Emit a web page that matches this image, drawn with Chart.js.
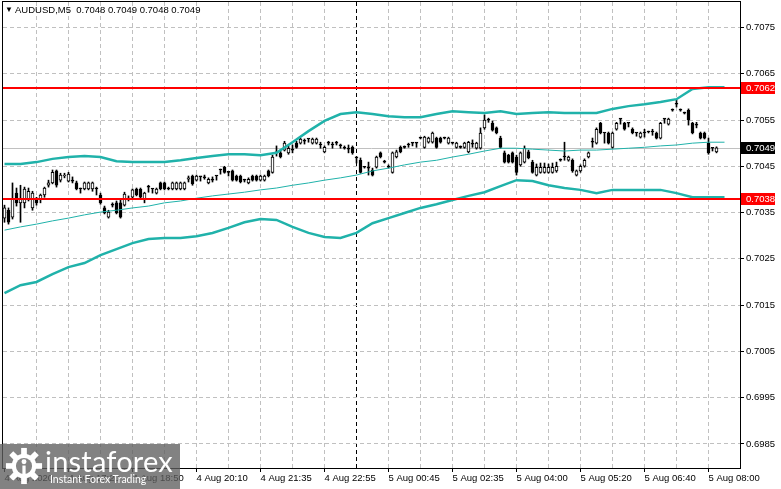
<!DOCTYPE html>
<html>
<head>
<meta charset="utf-8">
<script src="https://cdn.jsdelivr.net/npm/chart.js@4.4.1/dist/chart.umd.min.js"></script>
<style>
  html, body { margin: 0; padding: 0; background: #fff; }
  #wrap { position: relative; width: 781px; height: 489px; overflow: hidden; }
  canvas { display: block; }
  #title { position: absolute; left: 5px; top: 4px; font: 9.5px "Liberation Sans", Arial, sans-serif; color: #000; white-space: pre; }
  #title .tri { font-size: 8px; position: relative; top: -1px; }
  #logo { position: absolute; left: 0; top: 444px; width: 180px; height: 45px; background: rgba(95, 95, 95, 0.78); color: #fff; }
  #logo svg { position: absolute; left: 5px; top: 3px; }
  #logo .brand { position: absolute; left: 45px; top: -1px; font: 29px Lato, "Open Sans", sans-serif; letter-spacing: 0.2px; }
  #logo .tag { position: absolute; left: 50px; top: 29px; font: 10.5px Lato, "Open Sans", sans-serif; }
</style>
</head>
<body>
<div id="wrap">
  <canvas id="chart" width="781" height="489"></canvas>
  <div id="title"><span class="tri">▼</span> AUDUSD,M5&nbsp; 0.7048 0.7049 0.7048 0.7049</div>
  <div id="logo">
    <svg width="38" height="38" viewBox="0 0 40 40">
      <g fill="#fff">
        <rect x="17" y="1" width="6" height="8"/>
        <rect x="17" y="1" width="6" height="8" transform="rotate(45 20 20)"/>
        <rect x="17" y="1" width="6" height="8" transform="rotate(90 20 20)"/>
        <rect x="17" y="1" width="6" height="8" transform="rotate(135 20 20)"/>
        <rect x="17" y="1" width="6" height="8" transform="rotate(180 20 20)"/>
        <rect x="17" y="1" width="6" height="8" transform="rotate(225 20 20)"/>
        <rect x="17" y="1" width="6" height="8" transform="rotate(270 20 20)"/>
        <rect x="17" y="1" width="6" height="8" transform="rotate(315 20 20)"/>
        <circle cx="20" cy="20" r="13"/>
      </g>
      <circle cx="20" cy="20" r="8.5" fill="#858585"/>
      <circle cx="20" cy="15.5" r="2.6" fill="#fff"/>
      <rect x="18.3" y="19.5" width="3.4" height="14" fill="#fff"/>
    </svg>
    <div class="brand">instaforex</div>
    <div class="tag">Instant Forex Trading</div>
  </div>
</div>
<script>
// AUDUSD M5 candles, one entry per bar (bar 0 = left edge)
const opens = [
  0.70338, 0.70355, 0.70340, 0.70392, 0.70371, 0.70371, 0.70379, 0.70360, 0.70379, 0.70379,
  0.70388, 0.70409, 0.70414, 0.70440, 0.70420, 0.70429, 0.70418, 0.70420, 0.70414, 0.70401,
  0.70401, 0.70401, 0.70401, 0.70401, 0.70388, 0.70360, 0.70340, 0.70366, 0.70371, 0.70371,
  0.70366, 0.70379, 0.70383, 0.70401, 0.70401, 0.70379, 0.70405, 0.70401, 0.70392, 0.70414,
  0.70414, 0.70401, 0.70401, 0.70401, 0.70401, 0.70401, 0.70422, 0.70429, 0.70420, 0.70427,
  0.70425, 0.70414, 0.70420, 0.70429, 0.70442, 0.70448, 0.70437, 0.70440, 0.70429, 0.70429,
  0.70420, 0.70414, 0.70429, 0.70429, 0.70420, 0.70420, 0.70440, 0.70437, 0.70479, 0.70479,
  0.70485, 0.70479, 0.70485, 0.70500, 0.70500, 0.70504, 0.70509, 0.70500, 0.70500, 0.70496,
  0.70481, 0.70500, 0.70496, 0.70500, 0.70494, 0.70489, 0.70487, 0.70491, 0.70468, 0.70463,
  0.70448, 0.70446, 0.70442, 0.70448, 0.70479, 0.70459, 0.70448, 0.70437, 0.70470, 0.70491,
  0.70491, 0.70496, 0.70500, 0.70500, 0.70511, 0.70491, 0.70502, 0.70502, 0.70511, 0.70511,
  0.70511, 0.70500, 0.70500, 0.70491, 0.70491, 0.70491, 0.70481, 0.70498, 0.70489, 0.70489,
  0.70533, 0.70550, 0.70543, 0.70533, 0.70511, 0.70479, 0.70474, 0.70479, 0.70470, 0.70453,
  0.70459, 0.70481, 0.70459, 0.70431, 0.70437, 0.70437, 0.70437, 0.70437, 0.70440, 0.70463,
  0.70470, 0.70463, 0.70463, 0.70431, 0.70440, 0.70450, 0.70470, 0.70502, 0.70500, 0.70543,
  0.70522, 0.70522, 0.70491, 0.70530, 0.70552, 0.70543, 0.70543, 0.70530, 0.70522, 0.70513,
  0.70522, 0.70524, 0.70524, 0.70522, 0.70511, 0.70552, 0.70541, 0.70571, 0.70584, 0.70571,
  0.70565, 0.70571, 0.70543, 0.70539, 0.70522, 0.70522, 0.70500, 0.70489, 0.70481
];
const highs = [
  0.70366, 0.70360, 0.70414, 0.70403, 0.70409, 0.70405, 0.70403, 0.70396, 0.70383, 0.70390,
  0.70405, 0.70420, 0.70442, 0.70442, 0.70435, 0.70435, 0.70437, 0.70427, 0.70418, 0.70403,
  0.70416, 0.70416, 0.70416, 0.70405, 0.70392, 0.70364, 0.70355, 0.70371, 0.70375, 0.70377,
  0.70394, 0.70386, 0.70401, 0.70403, 0.70403, 0.70394, 0.70409, 0.70401, 0.70403, 0.70416,
  0.70416, 0.70405, 0.70416, 0.70416, 0.70416, 0.70416, 0.70429, 0.70431, 0.70431, 0.70427,
  0.70431, 0.70425, 0.70427, 0.70429, 0.70444, 0.70450, 0.70437, 0.70442, 0.70431, 0.70431,
  0.70422, 0.70425, 0.70431, 0.70431, 0.70431, 0.70431, 0.70442, 0.70474, 0.70494, 0.70485,
  0.70504, 0.70494, 0.70496, 0.70504, 0.70511, 0.70509, 0.70509, 0.70511, 0.70511, 0.70502,
  0.70494, 0.70504, 0.70502, 0.70504, 0.70498, 0.70494, 0.70496, 0.70494, 0.70470, 0.70468,
  0.70450, 0.70459, 0.70446, 0.70472, 0.70481, 0.70463, 0.70453, 0.70481, 0.70485, 0.70494,
  0.70494, 0.70500, 0.70500, 0.70500, 0.70513, 0.70515, 0.70513, 0.70524, 0.70513, 0.70513,
  0.70513, 0.70513, 0.70502, 0.70502, 0.70494, 0.70502, 0.70504, 0.70507, 0.70502, 0.70533,
  0.70561, 0.70554, 0.70548, 0.70535, 0.70515, 0.70483, 0.70476, 0.70481, 0.70474, 0.70481,
  0.70494, 0.70485, 0.70463, 0.70455, 0.70457, 0.70457, 0.70455, 0.70457, 0.70459, 0.70466,
  0.70502, 0.70472, 0.70466, 0.70442, 0.70453, 0.70466, 0.70481, 0.70511, 0.70533, 0.70545,
  0.70522, 0.70524, 0.70524, 0.70545, 0.70552, 0.70545, 0.70543, 0.70533, 0.70522, 0.70524,
  0.70530, 0.70526, 0.70530, 0.70524, 0.70545, 0.70552, 0.70554, 0.70574, 0.70593, 0.70574,
  0.70567, 0.70574, 0.70545, 0.70545, 0.70524, 0.70524, 0.70511, 0.70489, 0.70492
];
const lows = [
  0.70329, 0.70325, 0.70336, 0.70364, 0.70329, 0.70360, 0.70375, 0.70355, 0.70366, 0.70371,
  0.70383, 0.70405, 0.70412, 0.70405, 0.70416, 0.70425, 0.70416, 0.70414, 0.70399, 0.70392,
  0.70399, 0.70399, 0.70396, 0.70388, 0.70368, 0.70347, 0.70338, 0.70362, 0.70347, 0.70338,
  0.70364, 0.70375, 0.70381, 0.70386, 0.70381, 0.70371, 0.70394, 0.70392, 0.70390, 0.70399,
  0.70399, 0.70399, 0.70399, 0.70399, 0.70399, 0.70399, 0.70416, 0.70409, 0.70418, 0.70418,
  0.70422, 0.70412, 0.70416, 0.70420, 0.70433, 0.70435, 0.70429, 0.70418, 0.70418, 0.70414,
  0.70416, 0.70412, 0.70418, 0.70418, 0.70418, 0.70418, 0.70427, 0.70435, 0.70472, 0.70468,
  0.70483, 0.70476, 0.70479, 0.70489, 0.70498, 0.70498, 0.70502, 0.70498, 0.70498, 0.70489,
  0.70479, 0.70496, 0.70489, 0.70496, 0.70489, 0.70487, 0.70479, 0.70476, 0.70457, 0.70435,
  0.70446, 0.70431, 0.70429, 0.70446, 0.70468, 0.70457, 0.70446, 0.70435, 0.70468, 0.70479,
  0.70489, 0.70491, 0.70494, 0.70491, 0.70509, 0.70489, 0.70500, 0.70500, 0.70489, 0.70500,
  0.70509, 0.70498, 0.70498, 0.70489, 0.70489, 0.70489, 0.70479, 0.70491, 0.70487, 0.70487,
  0.70530, 0.70545, 0.70526, 0.70520, 0.70489, 0.70457, 0.70457, 0.70457, 0.70431, 0.70450,
  0.70457, 0.70466, 0.70435, 0.70429, 0.70435, 0.70435, 0.70435, 0.70435, 0.70437, 0.70461,
  0.70463, 0.70461, 0.70437, 0.70429, 0.70437, 0.70448, 0.70468, 0.70491, 0.70498, 0.70520,
  0.70500, 0.70498, 0.70489, 0.70528, 0.70541, 0.70528, 0.70535, 0.70520, 0.70515, 0.70511,
  0.70513, 0.70522, 0.70517, 0.70509, 0.70509, 0.70543, 0.70539, 0.70569, 0.70578, 0.70569,
  0.70563, 0.70539, 0.70520, 0.70533, 0.70509, 0.70509, 0.70476, 0.70483, 0.70479
];
const closes = [
  0.70360, 0.70329, 0.70381, 0.70371, 0.70379, 0.70401, 0.70396, 0.70392, 0.70371, 0.70388,
  0.70403, 0.70414, 0.70437, 0.70409, 0.70431, 0.70431, 0.70433, 0.70418, 0.70401, 0.70401,
  0.70414, 0.70414, 0.70414, 0.70401, 0.70371, 0.70349, 0.70351, 0.70366, 0.70349, 0.70340,
  0.70390, 0.70379, 0.70399, 0.70388, 0.70383, 0.70392, 0.70405, 0.70401, 0.70401, 0.70401,
  0.70401, 0.70401, 0.70414, 0.70414, 0.70414, 0.70414, 0.70425, 0.70412, 0.70429, 0.70427,
  0.70425, 0.70422, 0.70420, 0.70429, 0.70442, 0.70437, 0.70437, 0.70420, 0.70420, 0.70416,
  0.70420, 0.70422, 0.70420, 0.70420, 0.70429, 0.70429, 0.70429, 0.70470, 0.70481, 0.70470,
  0.70500, 0.70489, 0.70485, 0.70491, 0.70509, 0.70504, 0.70509, 0.70509, 0.70509, 0.70496,
  0.70491, 0.70500, 0.70496, 0.70500, 0.70494, 0.70489, 0.70487, 0.70479, 0.70468, 0.70437,
  0.70448, 0.70446, 0.70431, 0.70470, 0.70470, 0.70459, 0.70448, 0.70479, 0.70481, 0.70481,
  0.70491, 0.70496, 0.70500, 0.70500, 0.70511, 0.70513, 0.70511, 0.70522, 0.70491, 0.70502,
  0.70511, 0.70511, 0.70500, 0.70500, 0.70491, 0.70500, 0.70502, 0.70498, 0.70500, 0.70522,
  0.70550, 0.70550, 0.70528, 0.70522, 0.70491, 0.70459, 0.70459, 0.70459, 0.70437, 0.70479,
  0.70489, 0.70468, 0.70437, 0.70448, 0.70448, 0.70448, 0.70448, 0.70448, 0.70450, 0.70463,
  0.70470, 0.70470, 0.70440, 0.70440, 0.70450, 0.70463, 0.70479, 0.70502, 0.70530, 0.70522,
  0.70522, 0.70500, 0.70522, 0.70543, 0.70552, 0.70530, 0.70543, 0.70522, 0.70522, 0.70522,
  0.70522, 0.70524, 0.70524, 0.70511, 0.70543, 0.70552, 0.70552, 0.70571, 0.70584, 0.70571,
  0.70565, 0.70550, 0.70522, 0.70539, 0.70511, 0.70511, 0.70479, 0.70489, 0.70490
];

// Bollinger bands, read every 4th bar
const bandBars = [
  0, 4, 8, 12, 16, 20, 24, 28, 32, 36, 40, 44, 48, 52, 56, 60, 64, 68, 72, 76, 80, 84, 88,
  92, 96, 100, 104, 108, 112, 116, 120, 124, 128, 132, 136, 140, 144, 148, 152, 156, 160,
  164, 168, 172, 176, 180
];
const bandUpper = [
  0.70455, 0.70455, 0.70459, 0.70466, 0.70470, 0.70472, 0.70470, 0.70461, 0.70459, 0.70459,
  0.70459, 0.70463, 0.70468, 0.70472, 0.70476, 0.70476, 0.70474, 0.70479, 0.70502, 0.70526,
  0.70548, 0.70563, 0.70567, 0.70563, 0.70558, 0.70556, 0.70556, 0.70563, 0.70569, 0.70567,
  0.70565, 0.70569, 0.70563, 0.70565, 0.70567, 0.70565, 0.70565, 0.70565, 0.70574, 0.70580,
  0.70584, 0.70589, 0.70595, 0.70617, 0.70621, 0.70621
];
const bandMiddle = [
  0.70312, 0.70319, 0.70325, 0.70332, 0.70338, 0.70345, 0.70351, 0.70355, 0.70360, 0.70364,
  0.70371, 0.70375, 0.70381, 0.70386, 0.70390, 0.70394, 0.70399, 0.70403, 0.70409, 0.70414,
  0.70420, 0.70425, 0.70431, 0.70440, 0.70446, 0.70453, 0.70459, 0.70463, 0.70470, 0.70476,
  0.70483, 0.70489, 0.70489, 0.70487, 0.70485, 0.70483, 0.70485, 0.70485, 0.70487, 0.70489,
  0.70491, 0.70494, 0.70496, 0.70500, 0.70502, 0.70502
];
const bandLower = [
  0.70176, 0.70193, 0.70200, 0.70217, 0.70232, 0.70241, 0.70258, 0.70271, 0.70284, 0.70293,
  0.70295, 0.70295, 0.70299, 0.70306, 0.70317, 0.70329, 0.70336, 0.70334, 0.70319, 0.70306,
  0.70297, 0.70295, 0.70306, 0.70327, 0.70338, 0.70349, 0.70360, 0.70368, 0.70377, 0.70386,
  0.70394, 0.70407, 0.70420, 0.70418, 0.70409, 0.70403, 0.70399, 0.70392, 0.70399, 0.70399,
  0.70399, 0.70399, 0.70392, 0.70383, 0.70383, 0.70383
];

// time axis labels (bar index -> text)
const labelBars = [0, 16, 32, 48, 64, 80, 96, 112, 128, 144, 160, 176];
const labelTexts = [
  '4 Aug 2020', '4 Aug 17:20', '4 Aug 18:50', '4 Aug 20:10', '4 Aug 21:35', '4 Aug 22:55',
  '5 Aug 00:45', '5 Aug 02:35', '5 Aug 04:00', '5 Aug 05:20', '5 Aug 06:40', '5 Aug 08:00'
];
const separatorBar = 88;

// price axis
const yTicks = [0.6985, 0.6995, 0.7005, 0.7015, 0.7025, 0.7035, 0.7045, 0.7055, 0.7065, 0.7075];
const levels = [0.7062, 0.7038];
const lastPrice = 0.7049;

const TEAL = 'rgb(32,178,170)';
const GRID = '#c0c0c0';

Chart.defaults.font.family = '"Liberation Sans", Arial, sans-serif';
Chart.defaults.font.size = 9.5;
Chart.defaults.color = '#000';

const gridBars = [];
for (let b = 0; b <= 176; b += 8) gridBars.push(b);

// horizontal levels, price line, frame and axis price tags
const overlay = {
    id: 'overlay',
    beforeDatasetsDraw(chart) {
        const { ctx, chartArea: a, scales: { y } } = chart;
        const py = Math.round(y.getPixelForValue(lastPrice)) + 0.5;
        ctx.save();
        ctx.strokeStyle = GRID;
        ctx.lineWidth = 1;
        ctx.beginPath();
        ctx.moveTo(a.left, py);
        ctx.lineTo(a.right, py);
        ctx.stroke();
        ctx.restore();
    },
    afterDatasetsDraw(chart) {
        const { ctx, chartArea: a, scales: { y } } = chart;
        ctx.save();
        ctx.fillStyle = '#ff0000';
        levels.forEach((v) => {
            const py = Math.round(y.getPixelForValue(v));
            ctx.fillRect(a.left, py - 1, a.right - a.left, 2);
        });
        ctx.strokeStyle = '#000';
        ctx.lineWidth = 1;
        ctx.strokeRect(a.left - 0.5, a.top - 0.5, a.right - a.left + 1, a.bottom - a.top + 1);
        ctx.restore();
    },
    afterDraw(chart) {
        const { ctx, chartArea: a, scales: { y } } = chart;
        const tag = (v, bg) => {
            const py = Math.round(y.getPixelForValue(v));
            ctx.fillStyle = bg;
            ctx.fillRect(a.right + 1, py - 6, 34, 12);
            ctx.fillStyle = '#fff';
            ctx.font = '9.5px "Liberation Sans", Arial, sans-serif';
            ctx.textBaseline = 'middle';
            ctx.textAlign = 'left';
            ctx.fillText(v.toFixed(4), a.right + 6, py + 0.5);
        };
        ctx.save();
        levels.forEach((v) => tag(v, '#ff0000'));
        tag(lastPrice, '#000');
        ctx.restore();
    }
};

const bull = (i) => closes[i] > opens[i];

new Chart(document.getElementById('chart'), {
    type: 'bar',
    data: {
        datasets: [
            {
                type: 'line',
                data: bandBars.map((b, k) => ({ x: b, y: bandUpper[k] })),
                borderColor: TEAL,
                borderWidth: 2.5,
                pointRadius: 0,
                tension: 0,
                order: 0
            },
            {
                type: 'line',
                data: bandBars.map((b, k) => ({ x: b, y: bandLower[k] })),
                borderColor: TEAL,
                borderWidth: 2.5,
                pointRadius: 0,
                tension: 0,
                order: 0
            },
            {
                type: 'line',
                data: bandBars.map((b, k) => ({ x: b, y: bandMiddle[k] })),
                borderColor: TEAL,
                borderWidth: 1,
                pointRadius: 0,
                tension: 0,
                order: 0
            },
            {
                // candle bodies
                data: opens.map((o, i) => ({ x: i, y: [o, closes[i]] })),
                backgroundColor: (c) => (bull(c.dataIndex) ? '#fff' : '#000'),
                borderColor: '#000',
                borderWidth: 1,
                borderSkipped: false,
                barThickness: 3,
                minBarLength: 1,
                grouped: false,
                order: 1
            },
            {
                // wicks
                data: lows.map((l, i) => ({ x: i, y: [l, highs[i]] })),
                backgroundColor: '#000',
                borderWidth: 0,
                barThickness: 1,
                grouped: false,
                order: 2
            }
        ]
    },
    options: {
        responsive: false,
        animation: false,
        events: [],
        layout: { padding: { left: 3, top: 2, right: 0, bottom: 0 } },
        plugins: { legend: { display: false }, tooltip: { enabled: false } },
        scales: {
            x: {
                type: 'linear',
                min: -0.375,
                max: 183.875,
                offset: false,
                bounds: 'data',
                afterBuildTicks: (s) => { s.ticks = gridBars.map((v) => ({ value: v })); },
                afterFit: (s) => { s.height = 21; s.paddingLeft = 0; s.paddingRight = 0; },
                ticks: {
                    autoSkip: false,
                    maxRotation: 0,
                    minRotation: 0,
                    align: 'start',
                    padding: 1,
                    color: '#000',
                    callback: (v) => {
                        const k = labelBars.indexOf(v);
                        return k < 0 ? '' : labelTexts[k];
                    }
                },
                grid: {
                    offset: false,
                    lineWidth: 1,
                    color: (c) => {
                        const v = c.tick ? c.tick.value : -1;
                        if (v === separatorBar) return '#000';
                        if (v === 0) return 'rgba(0,0,0,0)';
                        return GRID;
                    },
                    drawTicks: true,
                    tickLength: 4,
                    tickBorderDash: [],
                    tickColor: (c) => (c.tick && labelBars.includes(c.tick.value) ? '#000' : 'rgba(0,0,0,0)')
                },
                border: { display: false, dash: [4, 3] }
            },
            y: {
                type: 'linear',
                position: 'right',
                min: 0.69798,
                max: 0.70805,
                beginAtZero: false,
                bounds: 'data',
                afterBuildTicks: (s) => { s.ticks = yTicks.map((v) => ({ value: v })); },
                afterFit: (s) => { s.width = 41; s.paddingTop = 0; s.paddingBottom = 0; },
                ticks: {
                    autoSkip: false,
                    padding: 2,
                    color: '#000',
                    callback: (v) => Number(v).toFixed(4)
                },
                grid: {
                    color: GRID,
                    lineWidth: 1,
                    drawTicks: true,
                    tickLength: 4,
                    tickColor: '#000',
                    tickBorderDash: []
                },
                border: { display: false, dash: [4, 3] }
            }
        }
    },
    plugins: [overlay]
});
</script>
</body>
</html>
